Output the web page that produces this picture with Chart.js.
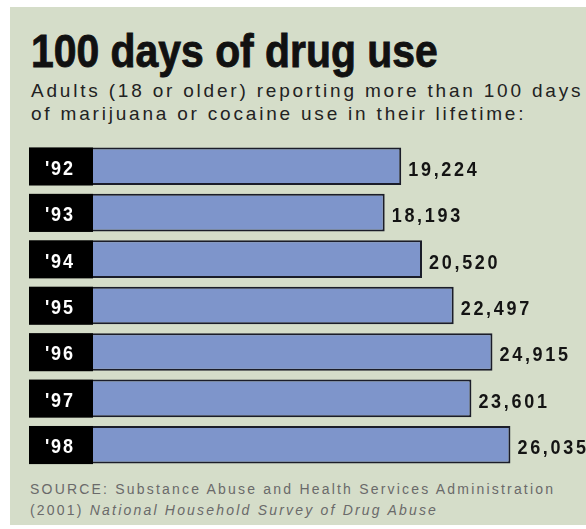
<!DOCTYPE html>
<html>
<head>
<meta charset="utf-8">
<script src="https://cdn.jsdelivr.net/npm/chart.js@4.4.1/dist/chart.umd.min.js"></script>
<style>
  html, body { margin: 0; padding: 0; background: #fff; }
  body { width: 586px; height: 529px; position: relative; overflow: hidden; }
  #panel { position: absolute; left: 10px; top: 7px; width: 576px; height: 518px; background: #d5ddc9; }
  #title { position: absolute; left: 31px; top: 27px; font-family: "Liberation Sans", Arial, sans-serif; font-size: 47px; font-weight: bold; line-height: 47px; color: #111; white-space: nowrap; transform: scaleX(0.87); transform-origin: left top; -webkit-text-stroke: 0.9px #111; }
  #subtitle { position: absolute; left: 31px; top: 79px; font-family: "Liberation Sans", Arial, sans-serif; font-size: 19px; line-height: 23px; letter-spacing: 2.8px; color: #222; white-space: nowrap; }
  #source { position: absolute; left: 30px; top: 479px; font-family: "Liberation Sans", Arial, sans-serif; font-size: 14px; line-height: 21px; letter-spacing: 2.2px; color: #6a6a6a; white-space: nowrap; }
  #chartBox { position: absolute; left: 29px; top: 143px; width: 557px; height: 325px; }
</style>
</head>
<body>
<div id="panel"></div>
<div id="title">100 days of drug use</div>
<div id="subtitle">Adults (18 or older) reporting more than 100 days<br>of marijuana or cocaine use in their lifetime:</div>
<div id="source">SOURCE: Substance Abuse and Health Services Administration<br>(2001) <i>National Household Survey of Drug Abuse</i></div>
<div id="chartBox"><canvas id="chart"></canvas></div>
<script>
const years = ["'92", "'93", "'94", "'95", "'96", "'97", "'98"];
const adults = [19224, 18193, 20520, 22497, 24915, 23601, 26035];

const labelFont = '"Liberation Sans", Arial, sans-serif';

// condensed bold text: squeeze the glyphs horizontally
function narrowText(ctx, text, x, y, spacing) {
    ctx.save();
    ctx.translate(x, y);
    ctx.scale(0.9, 1);
    ctx.font = "bold 20px " + labelFont;
    ctx.letterSpacing = spacing;
    ctx.textAlign = "left";
    ctx.textBaseline = "middle";
    ctx.fillText(text, 0, 0);
    ctx.restore();
}

// black year boxes to the left of each bar, with the year in white
const yearBoxes = {
    id: "yearBoxes",
    afterDatasetsDraw(chart) {
        const ctx = chart.ctx;
        const left = chart.chartArea.left;
        chart.getDatasetMeta(0).data.forEach((bar, i) => {
            ctx.fillStyle = "#000";
            ctx.fillRect(left - 64, bar.y - bar.height / 2, 64, bar.height + 0.5);
            ctx.fillStyle = "#fff";
            narrowText(ctx, chart.data.labels[i], left - 48, bar.y + 3, "2px");
        });
    }
};

// numbers at the end of each bar
const valueLabels = {
    id: "valueLabels",
    afterDatasetsDraw(chart) {
        const ctx = chart.ctx;
        const ds = chart.data.datasets[0];
        ctx.fillStyle = "#141414";
        chart.getDatasetMeta(0).data.forEach((bar, i) => {
            narrowText(ctx, ds.data[i].toLocaleString("en-US"), bar.x + 7, bar.y + 4, "3px");
        });
    }
};

new Chart(document.getElementById("chart"), {
    type: "bar",
    data: {
        labels: years,
        datasets: [{
            data: adults,
            backgroundColor: "#7e95cb",
            borderColor: "#1b1d29",
            borderWidth: 2,
            borderSkipped: "start",
            categoryPercentage: 1,
            barPercentage: 0.81
        }]
    },
    options: {
        indexAxis: "y",
        responsive: true,
        maintainAspectRatio: false,
        animation: false,
        layout: { padding: { left: 64, right: 12, top: 0, bottom: 0 } },
        plugins: {
            legend: { display: false },
            tooltip: { enabled: false }
        },
        scales: {
            x: { display: false, min: 0, max: 30000 },
            y: { display: false }
        }
    },
    plugins: [yearBoxes, valueLabels]
});
</script>
</body>
</html>
